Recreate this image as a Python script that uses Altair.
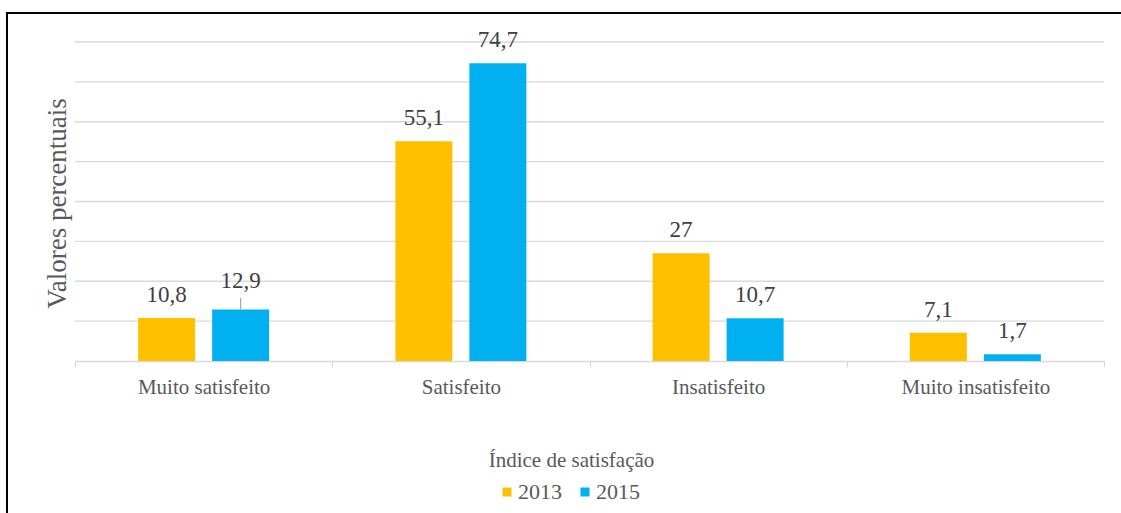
import altair as alt
import pandas as pd

categories = ["Muito satisfeito", "Satisfeito", "Insatisfeito", "Muito insatisfeito"]
years = ["2013", "2015"]
values_2013 = [10.8, 55.1, 27, 7.1]
values_2015 = [12.9, 74.7, 10.7, 1.7]
colors = ["#FFC000", "#00B0F0"]
grid_values = [10, 20, 30, 40, 50, 60, 70, 80]

rows = []
for cat, a, b in zip(categories, values_2013, values_2015):
    for yr, v in ((years[0], a), (years[1], b)):
        rows.append({"cat": cat, "year": yr, "val": v,
                     "label": (f"{v:g}").replace(".", ",")})
df = pd.DataFrame(rows)
grid_df = pd.DataFrame({"val": grid_values})

FONT = "Liberation Serif"
GRID = "#d9d9d9"

x_enc = alt.X("cat:N", sort=categories,
              scale=alt.Scale(paddingInner=0, paddingOuter=0),
              axis=alt.Axis(title="Índice de satisfação", tickBand="extent",
                            labelFont=FONT, labelFontSize=21, labelColor="#595959",
                            labelBaseline="alphabetic", labelPadding=26,
                            labelAngle=0,
                            tickColor=GRID, tickSize=6, domainColor=GRID,
                            domainWidth=1.3, tickWidth=1.3,
                            titleFont=FONT, titleFontSize=21, titleColor="#595959",
                            titleFontWeight="normal", titleX=496, titleY=105,
                            titleBaseline="alphabetic", titleAlign="center",
                            grid=False))
xo_enc = alt.XOffset("year:N", sort=years,
                     scale=alt.Scale(paddingInner=0.23, paddingOuter=0.853))
y_scale = alt.Scale(domain=[0, 80], nice=False)
y_axis = alt.Axis(title="Valores percentuais",
                  labels=False, ticks=False, domain=False, grid=False,
                  titleFont=FONT, titleFontSize=27, titleColor="#595959",
                  titleFontWeight="normal", titleAngle=270,
                  titleX=-10, titleY=161, titleBaseline="alphabetic",
                  titleAlign="center")
y_enc = alt.Y("val:Q", scale=y_scale, axis=y_axis)

grid = alt.Chart(grid_df).mark_rule(color=GRID, strokeWidth=1.3).encode(
    y=alt.Y("val:Q", scale=y_scale, axis=y_axis))

bars = alt.Chart(df).mark_bar().encode(
    x=x_enc, xOffset=xo_enc, y=y_enc,
    color=alt.Color("year:N", sort=years,
                    scale=alt.Scale(domain=years, range=colors),
                    legend=alt.Legend(title=None, orient="none", legendX=416, legendY=439,
                                      direction="horizontal", symbolType="square",
                                      symbolSize=81, symbolStrokeWidth=0,
                                      symbolOffset=5,
                                      labelFont=FONT, labelFontSize=22,
                                      labelColor="#595959", labelOffset=0,
                                      columnPadding=7))
)

is_lead = "datum.cat == 'Muito satisfeito' && datum.year == '2015'"

labels = alt.Chart(df).transform_filter("!(" + is_lead + ")").mark_text(
    font=FONT, fontSize=23, color="#404040", dy=-16, baseline="alphabetic"
).encode(x=alt.X("cat:N", sort=categories), xOffset=alt.XOffset("year:N", sort=years),
         y="val:Q", text="label:N")

lead_label = alt.Chart(df).transform_filter(is_lead).mark_text(
    font=FONT, fontSize=23, color="#404040", dy=-22, baseline="alphabetic"
).encode(x=alt.X("cat:N", sort=categories), xOffset=alt.XOffset("year:N", sort=years),
         y="val:Q", text="label:N")

lead_line = alt.Chart(df).transform_filter(is_lead).transform_calculate(
    top="datum.val + 2.9"
).mark_rule(color="#a6a6a6", strokeWidth=1.2).encode(
    x=alt.X("cat:N", sort=categories), xOffset=alt.XOffset("year:N", sort=years),
    y="val:Q", y2="top:Q")

one = alt.InlineData(values=[{"k": 1}])
border_left = alt.Chart(one).mark_rule(color="black", strokeWidth=2).encode(
    x=alt.value(-68), y=alt.value(-29), y2=alt.value(480))
border_top = alt.Chart(one).mark_rule(color="black", strokeWidth=2).encode(
    x=alt.value(-69), x2=alt.value(1060), y=alt.value(-29))

chart = alt.layer(grid, bars, labels, lead_label, lead_line, border_left, border_top).properties(
    width=1029, height=319,
    padding={"left": 75, "top": 42, "right": 17, "bottom": 152},
    autosize=alt.AutoSizeParams(type="none"),
    background="white",
).configure_view(stroke=None)

chart.save("out.html", embed_options={"renderer": "svg", "actions": False})
